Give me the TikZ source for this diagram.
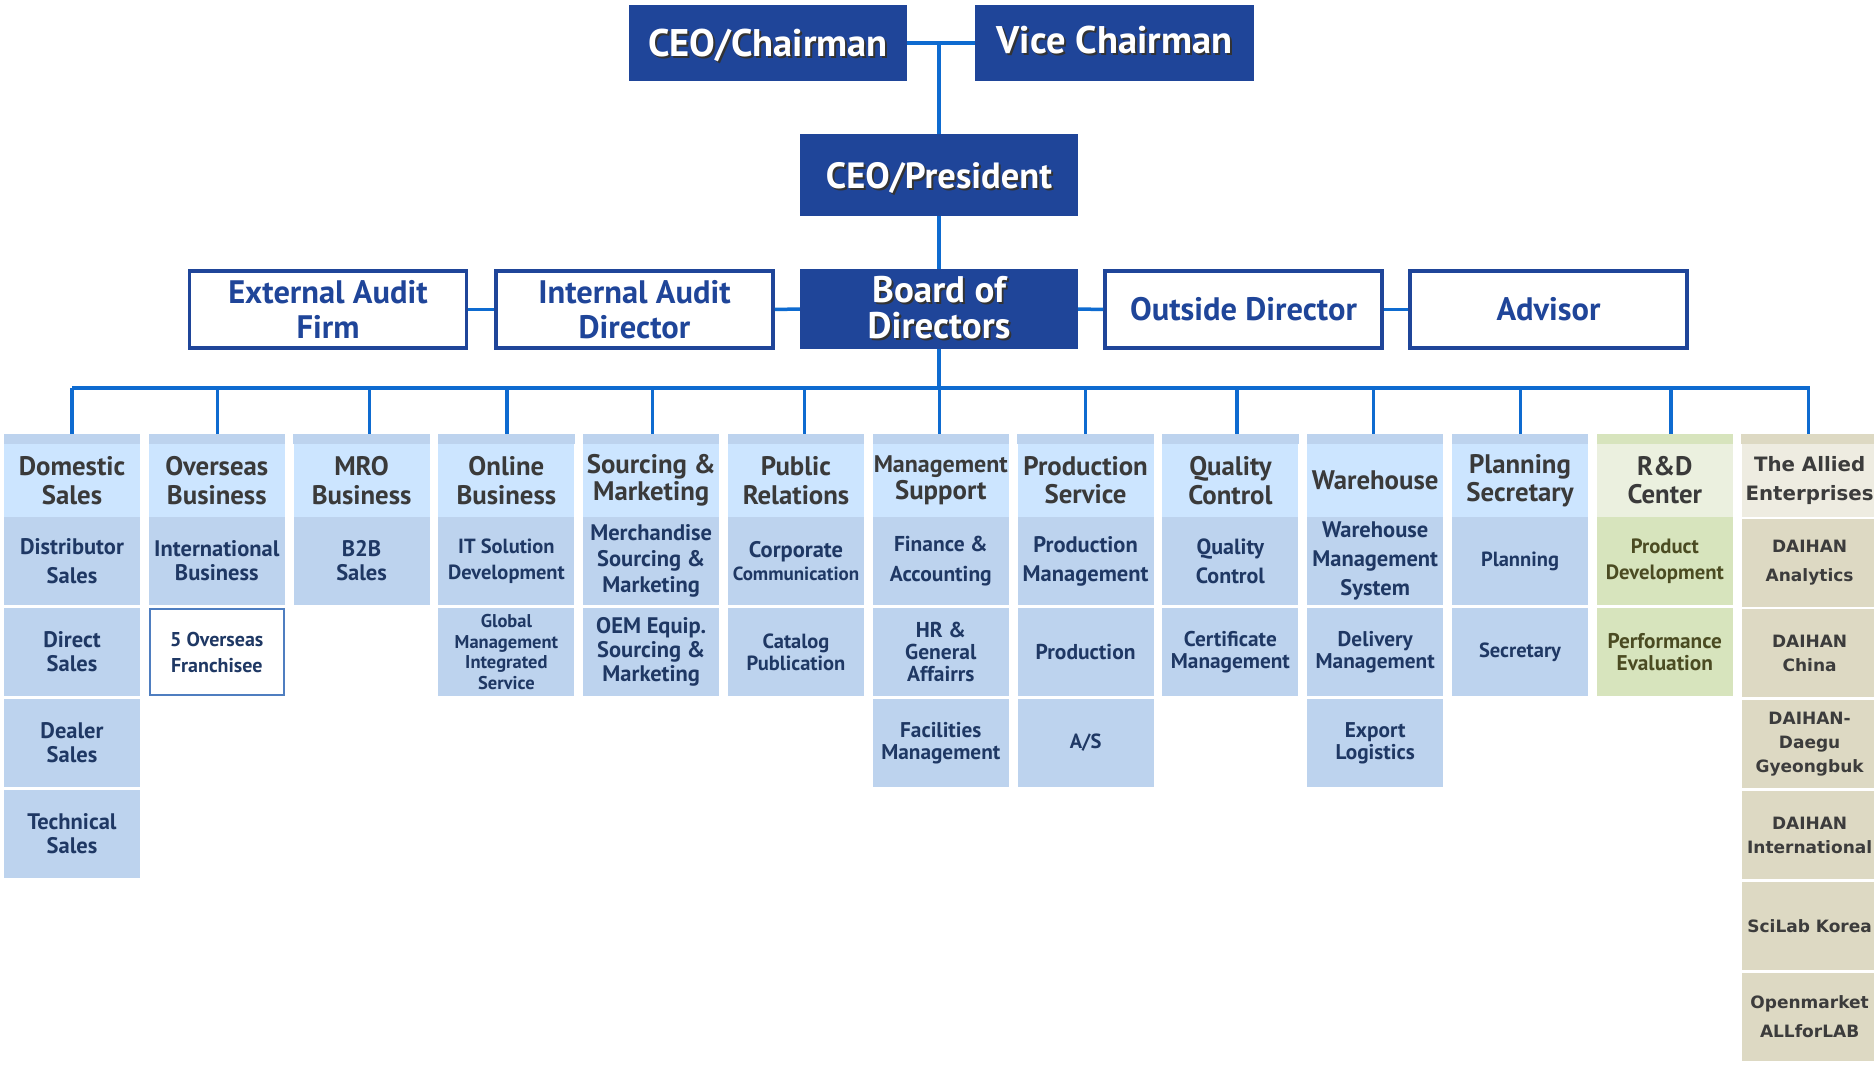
\documentclass[tikz,border=0pt]{standalone}
\usepackage{fontspec}
\setmainfont{PT Sans}
\newfontfamily\dvs{DejaVu Sans}
\definecolor{topblue}{HTML}{1F4599}
\definecolor{linkblue}{HTML}{0E6BD0}
\definecolor{hdrblue}{HTML}{CCE5FF}
\definecolor{subblue}{HTML}{BDD3EE}
\definecolor{navy}{HTML}{1F3864}
\definecolor{hdrtext}{HTML}{3A3A3A}
\definecolor{rdhdr}{HTML}{EBF0DF}
\definecolor{rdsub}{HTML}{D7E4BD}
\definecolor{rdtext}{HTML}{4B4B22}
\definecolor{alhdr}{HTML}{EEECE1}
\definecolor{alsub}{HTML}{DDD9C3}
\definecolor{altext}{HTML}{3C3C3C}
\definecolor{frborder}{HTML}{4F7EC0}
\newcommand\shd[1]{\leavevmode\rlap{\kern2pt\raisebox{-2pt}{\color{black!80}#1}}#1}
\newcommand\mvtxt[2]{\raisebox{#1}[\height][\depth]{#2}}
\newcommand\fs[2]{\fontsize{#1}{#2}\selectfont}
\begin{document}
\begin{tikzpicture}[x=1pt,y=-1pt,
  link/.style={draw=linkblue,line width=3.5pt},
  topbox/.style={fill=topblue,text=white,inner sep=0pt,align=center,font=\bfseries\fs{38.5}{38}},
  midbox/.style={draw=topblue,line width=3.5pt,fill=white,text=topblue,minimum width=277,minimum height=77,inner sep=0pt,align=center,font=\bfseries\fs{32.5}{35}},
  hdr/.style={fill=hdrblue,minimum width=136,minimum height=73,inner sep=0pt,align=center,text=hdrtext,font=\bfseries\fs{26.8}{29}},
  sub/.style={fill=subblue,minimum width=136,minimum height=88,inner sep=0pt,align=center,text=navy,font=\bfseries\fs{22.5}{24}},
  subL/.style={sub,font=\bfseries\fs{22.5}{29}},
  subM/.style={sub,font=\bfseries\fs{21.3}{22}},
  frbox/.style={sub,fill=white,draw=frborder,line width=2pt,minimum width=134,minimum height=86,font=\bfseries\fs{20}{26}},
  rdhd/.style={hdr,fill=rdhdr},
  rdsb/.style={sub,fill=rdsub,text=rdtext,font=\bfseries\fs{21.3}{22}},
  alhd/.style={hdr,fill=alhdr,text=altext,font=\dvs\bfseries\fs{19.8}{29}},
  alsb/.style={sub,fill=alsub,text=altext,font=\dvs\bfseries\fs{17}{24}}
]
\fill[white] (0,0) rectangle (1874,1067);
\useasboundingbox (0,0) rectangle (1874,1067);

% top level
\node[topbox,minimum width=278,minimum height=76] (ceoc) at (768,43) {\mvtxt{-3.6pt}{\shd{CEO/Chairman}}};
\node[topbox,minimum width=279,minimum height=76] (vice) at (1114.5,43) {\mvtxt{2.4pt}{\shd{Vice Chairman}}};
\node[topbox,minimum width=278,minimum height=82,font=\bfseries\fs{36.5}{36}] (ceop) at (939,175) {\mvtxt{-3.6pt}{\shd{CEO/President}}};
\node[topbox,minimum width=278,minimum height=80,font=\bfseries\fs{37}{36}] (board) at (939,309) {\shd{Board of}\\\shd{Directors}};
\node[midbox] (ext) at (328,309.5) {External Audit\\Firm};
\node[midbox] (int) at (634.5,309.5) {Internal Audit\\Director};
\node[midbox] (outd) at (1243.5,309.5) {Outside Director};
\node[midbox] (adv) at (1548.5,309.5) {Advisor};

\draw[link] (ceoc.east) -- (vice.west);
\draw[link] (ceop.north |- ceoc.east) -- (ceop.north);
\draw[link] (ceop.south) -- (board.north);
\draw[link] (ext.east) -- (int.west);
\draw[link] (int.east) -- (board.west);
\draw[link] (board.east) -- (outd.west);
\draw[link] (outd.east) -- (adv.west);

% column headers (light part 444-517, strip 434-444 above)
\node[hdr] (h1) at (72,480.5) {Domestic\\Sales};
\node[hdr] (h2) at (216.8,480.5) {Overseas\\Business};
\node[hdr] (h3) at (361.6,480.5) {MRO\\Business};
\node[hdr] (h4) at (506.4,480.5) {Online\\Business};
\node[hdr,font=\bfseries\fs{26.8}{27}] (h5) at (651.2,480.5) {Sourcing \&\\Marketing};
\node[hdr] (h6) at (796,480.5) {Public\\Relations};
\node[hdr,font=\bfseries\fs{26.8}{27}] (h7) at (940.8,480.5) {{\fs{24}{27}Management}\\Support};
\node[hdr,font=\bfseries\fs{26.8}{28}] (h8) at (1085.6,480.5) {Production\\Service};
\node[hdr] (h9) at (1230.4,480.5) {Quality\\Control};
\node[hdr] (h10) at (1375.2,480.5) {Warehouse};
\node[hdr,font=\bfseries\fs{26.8}{28}] (h11) at (1520,480.5) {Planning\\Secretary};
\node[rdhd,font=\bfseries\fs{26.8}{28}] (h12) at (1664.8,480.5) {R\&D\\Center};
\node[alhd] (h13) at (1809.6,480.5) {The Allied\\Enterprises};
\foreach \h/\c in {h1/subblue,h2/subblue,h3/subblue,h4/subblue,h5/subblue,h6/subblue,h7/subblue,h8/subblue,h9/subblue,h10/subblue,h11/subblue,h12/rdsub,h13/alsub}
  \fill[\c] (\h.north west) rectangle ([yshift=10pt]\h.north east);

% bus
\coordinate (bus) at (0,388);
\draw[link] (board.south) -- (board.south |- bus);
\draw[link] (h1.north |- bus) -- (h13.north |- bus);
\foreach \h/\dx in {h1/0,h2/0.7,h3/7.7,h4/0.4,h5/1.4,h6/8.4,h7/-1.4,h8/-0.3,h9/6.6,h10/-1.9,h11/0.3,h12/6.1,h13/-1.2}
  \draw[link] ([xshift=\dx pt]\h.north |- bus) -- ([xshift=\dx pt,yshift=10pt]\h.north);

% column 1
\node[subL] (d1) at (72,561) {Distributor\\Sales};
\node[sub] (d2) at (72,652) {Direct\\Sales};
\node[sub] (d3) at (72,743) {Dealer\\Sales};
\node[sub] (d4) at (72,834) {Technical\\Sales};
% column 2
\node[sub] (o1) at (216.8,561) {International\\Business};
\node[frbox] (o2) at (216.8,652) {5 Overseas\\Franchisee};
% column 3
\node[sub] (m1) at (361.6,561) {B2B\\Sales};
% column 4
\node[sub,font=\bfseries\fs{20.5}{26}] (n1) at (506.4,561) {IT Solution\\Development};
\node[sub,font=\bfseries\fs{18.5}{20.5}] (n2) at (506.4,652) {Global\\Management\\Integrated\\Service};
% column 5
\node[sub,font=\bfseries\fs{22.5}{26}] (s1) at (651.2,561) {Merchandise\\Sourcing \&\\Marketing};
\node[sub,font=\bfseries\fs{22.5}{24}] (s2) at (651.2,652) {OEM Equip.\\Sourcing \&\\Marketing};
% column 6
\node[sub,font=\bfseries\fs{22.5}{23}] (p1) at (796,561) {Corporate\\{\fs{19}{22}Communication}};
\node[sub,font=\bfseries\fs{20.5}{22}] (p2) at (796,652) {Catalog\\Publication};
% column 7
\node[sub,font=\bfseries\fs{21.5}{30}] (g1) at (940.8,561) {Finance \&\\Accounting};
\node[sub,font=\bfseries\fs{21.5}{22}] (g2) at (940.8,652) {HR \&\\General\\Affairrs};
\node[subM] (g3) at (940.8,743) {Facilities\\Management};
% column 8
\node[subL] (r1) at (1085.6,561) {Production\\Management};
\node[sub,font=\bfseries\fs{21.5}{24}] (r2) at (1085.6,652) {Production};
\node[sub,font=\bfseries\fs{20.5}{24}] (r3) at (1085.6,743) {A/S};
% column 9
\node[subL,font=\bfseries\fs{22}{29}] (q1) at (1230.4,561) {Quality\\Control};
\node[subM] (q2) at (1230.4,652) {Certificate\\Management};
% column 10
\node[sub,font=\bfseries\fs{22.5}{29}] (w1) at (1375.2,561) {Warehouse\\Management\\System};
\node[subM] (w2) at (1375.2,652) {Delivery\\Management};
\node[subM] (w3) at (1375.2,743) {Export\\Logistics};
% column 11
\node[sub,font=\bfseries\fs{20.5}{24}] (pl1) at (1520,561) {Planning};
\node[sub,font=\bfseries\fs{20.5}{24}] (pl2) at (1520,652) {Secretary};
% column 12
\node[rdsb,font=\bfseries\fs{20.7}{26}] (rd1) at (1664.8,561) {Product\\Development};
\node[rdsb] (rd2) at (1664.8,652) {Performance\\Evaluation};
% column 13
\node[alsb,font=\dvs\bfseries\fs{17}{29}] (a1) at (1809.6,563) {DAIHAN\\Analytics};
\node[alsb] (a2) at (1809.6,653) {DAIHAN\\China};
\node[alsb] (a3) at (1809.6,744) {DAIHAN-\\Daegu\\Gyeongbuk};
\node[alsb] (a4) at (1809.6,835) {DAIHAN\\International};
\node[alsb] (a5) at (1809.6,926) {SciLab Korea};
\node[alsb,font=\dvs\bfseries\fs{17}{29}] (a6) at (1809.6,1017) {Openmarket\\ALLforLAB};
\end{tikzpicture}
\end{document}
